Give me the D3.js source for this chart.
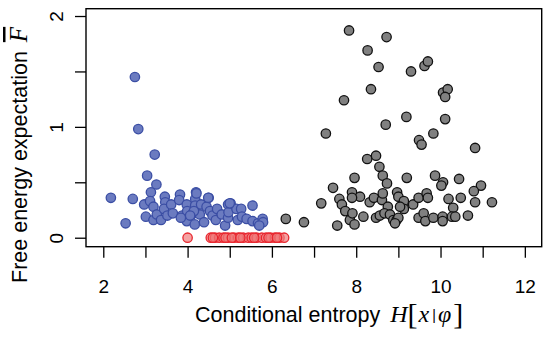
<!DOCTYPE html>
<html>
<head>
<meta charset="utf-8">
<script src="https://cdn.jsdelivr.net/npm/d3@7"></script>
<style>
  body { margin: 0; background: #fff; }
  text { font-family: "Liberation Sans", Arial, Helvetica, sans-serif; }
  .math { font-family: "Liberation Serif", "Times New Roman", serif; font-style: italic; }
</style>
</head>
<body>
<div id="chart"></div>
<script>
// cluster 1 (blue)
var blueX = [2.75, 2.83, 3.22, 3.04, 3.26, 3.13, 2.18, 2.70, 2.53, 2.97, 3.11, 3.19, 3.01, 3.19, 3.27,
  3.37, 3.46, 3.47, 3.44, 3.52, 3.61, 3.65, 3.82, 3.80, 3.87, 3.98, 3.99, 3.98, 4.20, 4.18,
  4.18, 4.10, 4.17, 4.32, 4.29, 4.39, 4.50, 4.45, 4.53, 4.59, 4.67, 4.70, 4.81, 4.89, 4.96,
  5.02, 4.96, 4.97, 5.16, 5.27, 5.19, 5.29, 5.40, 5.54, 5.54, 5.67, 5.78, 5.79, 5.70, 4.49,
  4.21, 5.00, 4.15, 4.06, 3.84];
var blueY = [1.45, 0.98, 0.75, 0.56, 0.48, 0.41, 0.36, 0.35, 0.13, 0.30, 0.33, 0.28, 0.19, 0.16, 0.21,
  0.16, 0.37, 0.32, 0.26, 0.20, 0.30, 0.22, 0.39, 0.34, 0.20, 0.30, 0.24, 0.15, 0.41, 0.35,
  0.29, 0.21, 0.12, 0.30, 0.21, 0.14, 0.36, 0.28, 0.24, 0.20, 0.16, 0.26, 0.21, 0.11, 0.30,
  0.31, 0.18, 0.23, 0.26, 0.26, 0.16, 0.19, 0.17, 0.29, 0.15, 0.13, 0.17, 0.14, 0.11, 0.36,
  0.40, 0.31, 0.24, 0.20, 0.18];

// cluster 2 (grey)
var greyX = [7.83, 8.72, 8.27, 8.53, 9.30, 9.62, 9.70, 8.35, 7.71, 10.06, 10.17, 10.11, 9.19, 8.70, 10.11,
  7.28, 9.49, 9.55, 9.83, 10.82, 8.26, 8.47, 8.55, 8.63, 8.73, 7.96, 9.20, 9.87, 10.06, 10.02,
  10.44, 7.45, 10.96, 10.79, 7.90, 8.09, 7.90, 7.60, 7.66, 7.17, 7.74, 7.85, 7.91, 7.96, 8.17,
  7.55, 8.32, 8.42, 8.61, 8.63, 8.75, 8.47, 8.56, 8.67, 8.80, 8.88, 8.96, 9.00, 8.92, 8.97,
  9.00, 9.13, 9.13, 9.04, 9.35, 9.48, 9.67, 9.70, 9.48, 9.60, 9.64, 9.83, 10.05, 10.05, 10.19,
  10.30, 10.27, 10.35, 10.48, 10.82, 11.22, 10.65, 6.33, 6.76];
var greyY = [1.87, 1.81, 1.69, 1.54, 1.50, 1.55, 1.59, 1.34, 1.24, 1.31, 1.34, 1.27, 1.09, 1.02, 1.07,
  0.94, 0.88, 0.84, 0.94, 0.81, 0.71, 0.74, 0.64, 0.56, 0.49, 0.54, 0.54, 0.56, 0.50, 0.47,
  0.53, 0.45, 0.47, 0.42, 0.41, 0.37, 0.36, 0.35, 0.30, 0.31, 0.24, 0.16, 0.22, 0.12, 0.19,
  0.11, 0.32, 0.36, 0.34, 0.40, 0.28, 0.18, 0.20, 0.22, 0.21, 0.16, 0.16, 0.18, 0.13, 0.41,
  0.37, 0.33, 0.26, 0.28, 0.30, 0.36, 0.40, 0.36, 0.18, 0.22, 0.15, 0.18, 0.19, 0.15, 0.35,
  0.27, 0.19, 0.19, 0.36, 0.32, 0.32, 0.20, 0.17, 0.14];

// cluster 3 (red, zero energy)
var redX = [4.00, 4.55, 4.65, 4.75, 4.85, 4.96, 5.10, 5.20, 5.32, 5.44, 5.52, 5.64, 5.76, 5.86, 5.97,
  6.07, 6.18, 6.29, 4.60, 4.90, 5.05, 5.25, 5.58, 5.92, 6.12];
var redY = [0, 0, 0, 0, 0, 0, 0, 0, 0, 0, 0, 0, 0, 0, 0,
  0, 0, 0, 0, 0, 0, 0, 0, 0, 0];

var xTicks = [2, 3, 4, 5, 6, 7, 8, 9, 10, 11, 12];
var yTicks = [0, 0.5, 1, 1.5, 2];

var W = 550, H = 339;
var box = { left: 86, right: 541.7, top: 8.7, bottom: 246.7 };

var svg = d3.select('#chart').append('svg')
  .attr('width', W).attr('height', H);

var x = d3.scaleLinear().domain([1.59, 12.4]).range([box.left, box.right]);
var y = d3.scaleLinear().domain([-0.081, 2.066]).range([box.bottom, box.top]);

// x axis
var xAxis = svg.append('g')
  .attr('transform', 'translate(0,' + box.bottom + ')')
  .call(d3.axisBottom(x).tickValues(xTicks).tickSize(11).tickPadding(21.8)
    .tickFormat(function (d) { return d % 2 === 0 ? d : ''; }));
xAxis.select('.domain').remove();
xAxis.selectAll('line').attr('stroke', '#000').attr('stroke-width', 1.3);
xAxis.selectAll('text').attr('font-size', 19).attr('fill', '#000')
  .style('font-family', '"Liberation Sans", Arial, sans-serif');

// y axis, labels rotated like R's default
var yAxis = svg.append('g')
  .attr('transform', 'translate(' + box.left + ',0)')
  .call(d3.axisLeft(y).tickValues(yTicks).tickSize(11)
    .tickFormat(function (d) { return d % 1 === 0 ? d : ''; }));
yAxis.select('.domain').remove();
yAxis.selectAll('line').attr('stroke', '#000').attr('stroke-width', 1.3);
yAxis.selectAll('text')
  .attr('font-size', 19).attr('fill', '#000')
  .style('font-family', '"Liberation Sans", Arial, sans-serif')
  .attr('text-anchor', 'middle')
  .attr('x', 0).attr('y', -23).attr('dy', 0)
  .attr('transform', 'rotate(-90)');

function draw(xs, ys, fill, stroke, op) {
  svg.append('g').selectAll('circle')
    .data(xs.map(function (v, i) { return [v, ys[i]]; }))
    .enter().append('circle')
    .attr('cx', function (d) { return x(d[0]); })
    .attr('cy', function (d) { return y(d[1]); })
    .attr('r', 4.7)
    .attr('fill', fill)
    .attr('fill-opacity', op)
    .attr('stroke', stroke)
    .attr('stroke-width', 1.3);
}

draw(blueX, blueY, '#6b7bc0', '#3b4ea4', 1);
draw(greyX, greyY, '#808080', '#111', 1);
draw(redX, redY, '#f07a7a', '#e8262e', 0.7);

// frame
svg.append('rect')
  .attr('x', box.left).attr('y', box.top)
  .attr('width', box.right - box.left).attr('height', box.bottom - box.top)
  .attr('fill', 'none').attr('stroke', '#000').attr('stroke-width', 1.4);

// x label
var xl = svg.append('text').attr('x', 195).attr('y', 322).attr('font-size', 21.5).attr('fill', '#000');
xl.append('tspan').text('Conditional entropy ');
xl.append('tspan').attr('class', 'math').attr('font-size', 24).attr('dx', 4).text('H');
xl.append('tspan').style('font-family', '"Liberation Serif", serif').attr('font-size', 30).attr('dy', 2).text('[');
xl.append('tspan').attr('class', 'math').attr('font-size', 24).attr('dy', -2).attr('dx', 1).text('x');
xl.append('tspan').attr('font-size', 14).attr('dx', 3).attr('dy', -2).text('|');
xl.append('tspan').attr('class', 'math').attr('font-size', 24).attr('dx', 2).attr('dy', 2).text('φ');
xl.append('tspan').style('font-family', '"Liberation Serif", serif').attr('font-size', 30).attr('dx', 2).attr('dy', 2).text(']');

// y label
var yl = svg.append('text').attr('transform', 'translate(27,283) rotate(-90)')
  .attr('font-size', 21.5).attr('fill', '#000');
yl.append('tspan').text('Free energy expectation ');
yl.append('tspan').attr('class', 'math').attr('font-size', 25).attr('dx', 3)
  .style('text-decoration', 'overline').text('F');
</script>
</body>
</html>
